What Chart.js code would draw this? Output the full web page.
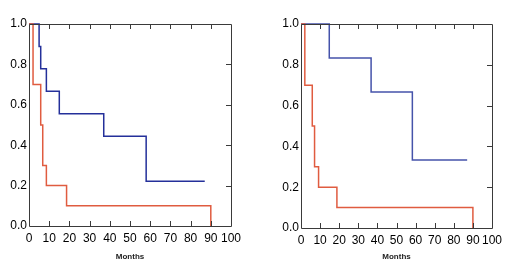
<!DOCTYPE html>
<html><head><meta charset="utf-8">
<script src="https://cdn.jsdelivr.net/npm/chart.js@4.4.1/dist/chart.umd.min.js"></script>
<style>
html,body{margin:0;padding:0;background:#fff;}
.box{position:absolute;top:0;width:256px;height:280px;}
</style></head>
<body>
<div class="box" style="left:0"><canvas id="c1" width="256" height="280"></canvas></div>
<div class="box" style="left:256px"><canvas id="c2" width="256" height="280"></canvas></div>
<script>
// Left panel
const leftBlueTimes = [0, 5, 5.8, 8.6, 15, 37, 58, 87];
const leftBlueSurv  = [1, 0.889, 0.778, 0.667, 0.556, 0.444, 0.222, 0.222];
const leftRedTimes  = [0, 2, 5.8, 6.8, 8.6, 18.6, 90];
const leftRedSurv   = [1, 0.7, 0.5, 0.3, 0.2, 0.1, 0];
// Right panel
const rightBlueTimes = [0, 14.8, 36.7, 58.3, 87];
const rightBlueSurv  = [1, 0.833, 0.667, 0.333, 0.333];
const rightRedTimes  = [0, 2, 5.9, 7.1, 9.2, 18.8, 90];
const rightRedSurv   = [1, 0.7, 0.5, 0.3, 0.2, 0.1, 0];
const xTickValues = [0,10,20,30,40,50,60,70,80,90,100];
const yTickValues = [0,0.2,0.4,0.6,0.8,1.0];
const xAxisTitle = 'Months';

const toPts = (t, s) => t.map((v, i) => ({x: v, y: s[i]}));

const framePlugin = {
  id: 'frame',
  afterDraw(chart) {
    const {ctx, chartArea: a, scales: {x, y}} = chart;
    ctx.save();
    ctx.strokeStyle = '#3a3a3a';
    ctx.lineWidth = 1;
    ctx.beginPath();
    ctx.rect(Math.round(a.left) + 0.5, Math.round(a.top) + 0.5, Math.round(a.right - a.left), Math.round(a.bottom - a.top));
    ctx.stroke();
    const L = 5;
    ctx.beginPath();
    xTickValues.slice(1, -1).forEach(v => {
      const px = Math.round(x.getPixelForValue(v)) + 0.5;
      ctx.moveTo(px, a.top); ctx.lineTo(px, a.top + L);
      ctx.moveTo(px, a.bottom); ctx.lineTo(px, a.bottom - L);
    });
    yTickValues.slice(1, -1).forEach(v => {
      const py = Math.round(y.getPixelForValue(v)) + 0.5;
      ctx.moveTo(a.right, py); ctx.lineTo(a.right - L, py);
    });
    ctx.stroke();
    ctx.restore();
  }
};

function makeChart(id, blue, red, blueColor, yWidth, padRight, xHeight) {
  return new Chart(document.getElementById(id), {
    type: 'line',
    data: {
      datasets: [
        {data: red, borderColor: '#e05c40', borderWidth: 1.5, stepped: 'before', pointRadius: 0, fill: false, clip: false},
        {data: blue, borderColor: blueColor, borderWidth: 1.5, stepped: 'before', pointRadius: 0, fill: false, clip: false}
      ]
    },
    options: {
      responsive: false,
      animation: false,
      devicePixelRatio: 1,
      layout: {padding: {top: 24, left: 0, right: padRight, bottom: 0}},
      plugins: {legend: {display: false}, tooltip: {enabled: false}},
      scales: {
        x: {
          type: 'linear', min: 0, max: 100,
          afterBuildTicks: s => { s.ticks = xTickValues.map(v => ({value: v})); },
          afterFit: s => { s.height = xHeight; },
          grid: {display: false, drawTicks: false},
          border: {display: false},
          ticks: {padding: 5, color: '#000', font: {family: 'Liberation Sans, Arial', size: 12}, maxRotation: 0, autoSkip: false},
          title: {display: true, text: xAxisTitle, color: '#222', font: {family: 'Liberation Sans, Arial', size: 8, weight: 'bold'}, padding: {top: 0, bottom: 18}}
        },
        y: {
          type: 'linear', min: 0, max: 1,
          afterBuildTicks: s => { s.ticks = yTickValues.map(v => ({value: v})); },
          afterFit: s => { s.width = yWidth; },
          grid: {display: false, drawTicks: false},
          border: {display: false},
          ticks: {padding: 2, color: '#000', font: {family: 'Liberation Sans, Arial', size: 12}, callback: v => Number(v).toFixed(1)}
        }
      }
    },
    plugins: [framePlugin]
  });
}

makeChart('c1', toPts(leftBlueTimes, leftBlueSurv), toPts(leftRedTimes, leftRedSurv), '#24309a', 29, 25, 54);
makeChart('c2', toPts(rightBlueTimes, rightBlueSurv), toPts(rightRedTimes, rightRedSurv), '#4553aa', 45, 20, 52);
</script>
</body></html>
